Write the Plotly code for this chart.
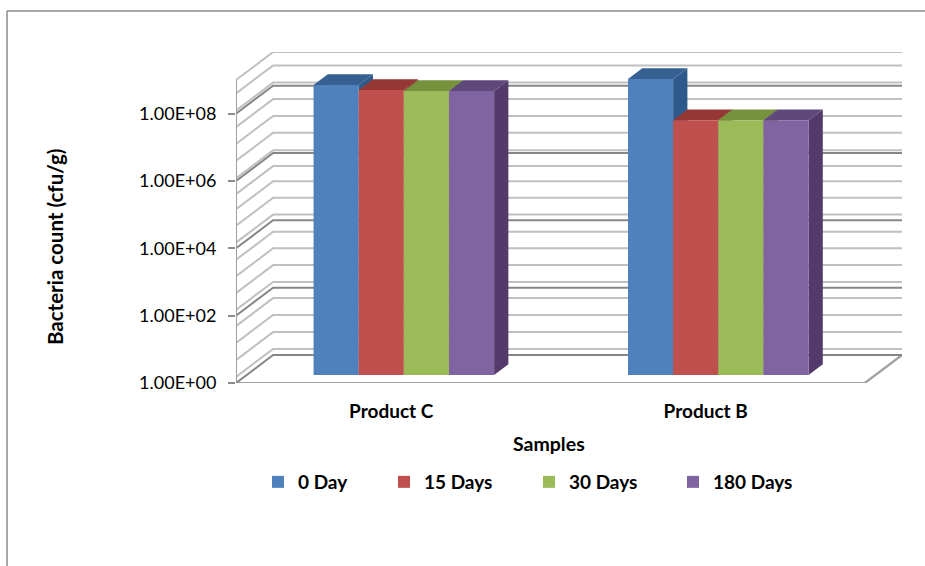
import plotly.graph_objects as go

# ---- data ----
categories = ["Product C", "Product B"]
series_names = ["0 Day", "15 Days", "30 Days", "180 Days"]
day0 = [4.1e8, 6.2e8]
day15 = [2.9e8, 3.7e7]
day30 = [2.7e8, 3.7e7]
day180 = [2.7e8, 3.7e7]
front_colors = ["#4F81BD", "#C0504D", "#9BBB59", "#8064A2"]
top_colors = ["#376092", "#953735", "#76923C", "#5F497A"]
side_colors = ["#2C5A8A", "#7F2E2C", "#5F7530", "#533A6B"]
major_exponents = [0, 2, 4, 6, 8]
tick_labels = ["1.00E+00", "1.00E+02", "1.00E+04", "1.00E+06", "1.00E+08"]
minor_exponents = [0.18, 0.68, 1.19, 1.69, 2.17, 2.67, 3.17, 3.66, 4.17, 4.67,
                   5.16, 5.61, 6.08, 6.6, 7.1, 7.6, 8.09, 8.6, 9.0]
series = [day0, day15, day30, day180]

# ---- layout geometry (pixels in the 925x566 picture) ----
W, H = 925, 566
L_PX, R_PX, T_PX, B_PX = 236, 902, 52, 383
CAT_PX = 313.5          # width of a category on the front plane
DEC_PX = 33.67          # height of one decade
DX = 37 / CAT_PX        # wall depth, x units
DY = 28 / DEC_PX        # wall depth, decades
XMIN, XMAX = -0.5, 1.5 + DX
YTOP = (B_PX - T_PX) / DEC_PX
BAR_W = 45 / CAT_PX
F_FRONT, F_BACK = 0.286, 0.67   # depth fractions of the bars
FONT = "Lato"
TXT = "#000000"


def px(x):
    return (x - L_PX) / (R_PX - L_PX)


def py(y):
    return (B_PX - y) / (B_PX - T_PX)


def wall_line(exponents):
    xs, ys = [], []
    for e in exponents:
        xs += [XMIN, XMIN + DX, 1.5 + DX, None]
        ys += [10 ** e, 10 ** (e + DY), 10 ** (e + DY), None]
    return xs, ys


fig = go.Figure()

# floor
fig.add_trace(go.Scatter(x=[XMIN, 1.5, 1.5 + DX], y=[1, 1, 10 ** DY], mode="lines",
                         line=dict(color="#A0A0A0", width=2.2), showlegend=False, hoverinfo="skip"))
# minor + major wall lines
xs, ys = wall_line(minor_exponents)
fig.add_trace(go.Scatter(x=xs, y=ys, mode="lines", line=dict(color="#C0C0C0", width=2),
                         showlegend=False, hoverinfo="skip"))
xs, ys = wall_line(major_exponents)
fig.add_trace(go.Scatter(x=xs, y=ys, mode="lines", line=dict(color="#868686", width=2),
                         showlegend=False, hoverinfo="skip"))
# front axis line
fig.add_trace(go.Scatter(x=[XMIN, XMIN], y=[1, 1e9], mode="lines", line=dict(color="#A0A0A0", width=2),
                         showlegend=False, hoverinfo="skip"))

base_val = 10 ** (F_FRONT * DY)
back_mul = 10 ** ((F_BACK - F_FRONT) * DY)
d0 = F_FRONT * DX
d1 = F_BACK * DX

# top and side faces (drawn in series order so later bars cover earlier sides)
for c in range(len(categories)):
    for s, vals in enumerate(series):
        x0 = c + (s - 2) * BAR_W + d0
        x1 = x0 + BAR_W
        shift = d1 - d0
        v = vals[c] * base_val
        fig.add_trace(go.Scatter(
            x=[x1, x1 + shift, x1 + shift, x1, x1],
            y=[base_val, base_val * back_mul, v * back_mul, v, base_val],
            mode="lines", fill="toself", fillcolor=side_colors[s], line=dict(width=0),
            showlegend=False, hoverinfo="skip"))
        fig.add_trace(go.Scatter(
            x=[x0, x1, x1 + shift, x0 + shift, x0],
            y=[v, v, v * back_mul, v * back_mul, v],
            mode="lines", fill="toself", fillcolor=top_colors[s], line=dict(width=0),
            showlegend=False, hoverinfo="skip"))

# front faces on an overlaid axis pair so they sit above the other faces
legend_ids = ["legend", "legend2", "legend3", "legend4"]
for s, vals in enumerate(series):
    fig.add_trace(go.Bar(
        x=[c + (s - 1.5) * BAR_W + d0 for c in range(len(categories))],
        y=[v * base_val - base_val for v in vals], base=base_val, width=BAR_W,
        name=series_names[s], marker=dict(color=front_colors[s], line=dict(width=0)),
        xaxis="x2", yaxis="y2", legend=legend_ids[s], hovertext=categories))

legend_text_px = [298, 424, 569, 713]
legend_cfg = {}
for i, lid in enumerate(legend_ids):
    legend_cfg[lid] = dict(x=px(legend_text_px[i] - 40), y=py(482), xanchor="left", yanchor="middle",
                           bgcolor="rgba(0,0,0,0)", font=dict(family=FONT, size=19, color=TXT, weight="bold"))

shapes = [
    dict(type="line", xref="paper", yref="paper", x0=px(7), x1=px(7), y0=py(11), y1=py(H),
         line=dict(color="#8C8C8C", width=1.5)),
    dict(type="line", xref="paper", yref="paper", x0=px(7), x1=px(W), y0=py(11), y1=py(11),
         line=dict(color="#8C8C8C", width=1.5)),
]
annotations = [
    dict(text="Bacteria count (cfu/g)", xref="paper", yref="paper", x=px(55), y=py(247), showarrow=False,
         xanchor="center", yanchor="middle", textangle=-90,
         font=dict(family=FONT, size=20.5, color=TXT, weight="bold")),
    dict(text="Samples", xref="paper", yref="paper", x=px(549), y=py(444), showarrow=False,
         xanchor="center", yanchor="middle",
         font=dict(family=FONT, size=19.5, color=TXT, weight="bold")),
]

label_shift = -2 / CAT_PX
fig.update_layout(
    width=W, height=H, margin=dict(l=L_PX, r=W - R_PX, t=T_PX, b=H - B_PX, pad=0),
    paper_bgcolor="white", plot_bgcolor="rgba(0,0,0,0)", barmode="overlay",
    shapes=shapes, annotations=annotations, font=dict(family=FONT, color=TXT),
    xaxis=dict(range=[XMIN, XMAX], tickmode="array", tickvals=[c + label_shift for c in range(len(categories))],
               ticktext=categories,
               showgrid=False, zeroline=False, showline=False, ticks="outside", ticklen=11,
               tickcolor="rgba(0,0,0,0)", tickfont=dict(family=FONT, size=19, color=TXT, weight="bold")),
    yaxis=dict(type="log", range=[0, YTOP], tickmode="array", tickvals=[10 ** e for e in major_exponents],
               ticktext=tick_labels, showgrid=False, zeroline=False, showline=False, ticks="outside", ticklen=7,
               tickcolor="#8C8C8C", tickwidth=1.5, ticklabelstandoff=8,
               tickfont=dict(family=FONT, size=18, color=TXT)),
    xaxis2=dict(range=[XMIN, XMAX], overlaying="x", visible=False),
    yaxis2=dict(type="log", range=[0, YTOP], overlaying="y", visible=False),
    **legend_cfg,
)
fig.write_html("out.html", config={"displayModeBar": False},
               post_script="document.body.style.margin='0';")
